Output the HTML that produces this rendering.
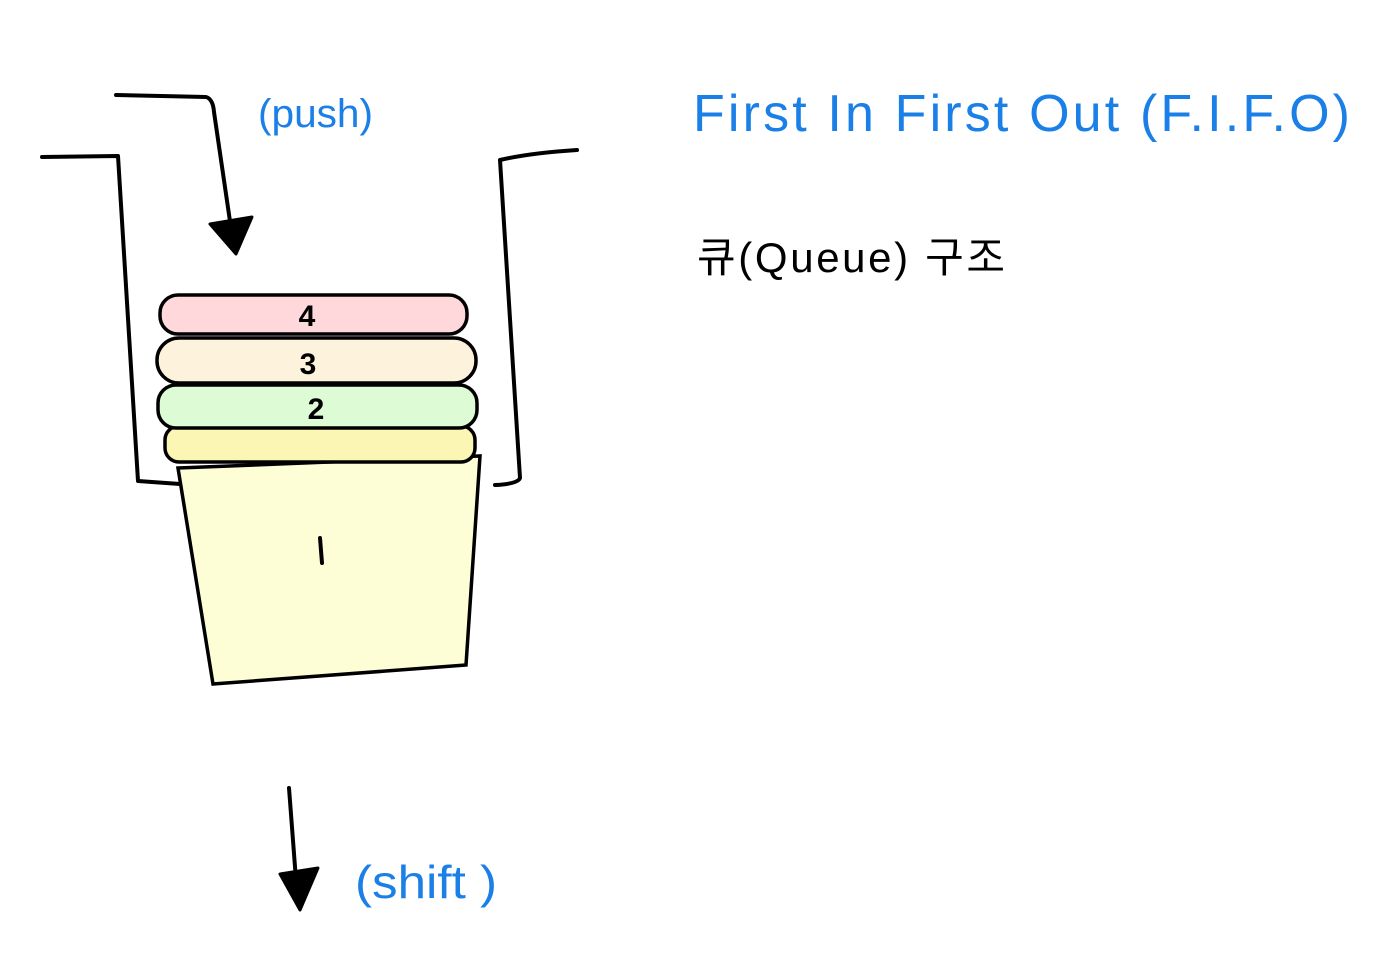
<!DOCTYPE html>
<html><head><meta charset="utf-8"><style>
html,body{margin:0;padding:0;background:#fff;}
svg{display:block}
</style></head><body>
<svg width="1398" height="956" viewBox="0 0 1398 956" xmlns="http://www.w3.org/2000/svg">
<rect width="1398" height="956" fill="#fff"/>
<g fill="none" stroke="#000" stroke-width="4" stroke-linecap="round" stroke-linejoin="round">
  <path d="M116,95 L206,97 Q213,99 214,112 L232,235"/>
  <path d="M210,224 L252,217 L236,254 Z" fill="#000" stroke-width="3"/>
  <path d="M42,157 L118,156 L138,481 L180,484"/>
  <path d="M577,150 Q530,153 500,160 L520,478 Q518,484 495,485"/>
</g>
<g stroke="#000" stroke-width="3.5">
  <path d="M178,468 L480,456 L466,665 L213,684 Z" fill="#fefed6"/>
  <rect x="165" y="426" width="310" height="36" rx="14" fill="#fbf6b4"/>
  <rect x="158" y="385" width="319" height="43" rx="18" fill="#ddfbd4"/>
  <rect x="157" y="338" width="319" height="45" rx="22" fill="#fdf3dd"/>
  <rect x="160" y="295" width="307" height="39" rx="18" fill="#ffd8db"/>
</g>
<g font-family="Liberation Sans, sans-serif" font-size="30" font-weight="bold" fill="#000" text-anchor="middle">
  <text x="307" y="326">4</text>
  <text x="308" y="374">3</text>
  <text x="316" y="419">2</text>
</g>
<path d="M320,538 L322,563" stroke="#000" stroke-width="4" stroke-linecap="round"/>
<g fill="none" stroke="#000" stroke-width="4" stroke-linecap="round" stroke-linejoin="round">
  <path d="M289,788 L297,893"/>
  <path d="M280,874 L318,868 L300,910 Z" fill="#000" stroke-width="3"/>
</g>
<g font-family="Liberation Sans, sans-serif" fill="#1a7fe6">
  <text x="258" y="127" font-size="40" textLength="115" lengthAdjust="spacingAndGlyphs">(push)</text>
  <text x="693" y="131" font-size="52" textLength="657" lengthAdjust="spacing">First In  First  Out  (F.I.F.O)</text>
  <text x="355" y="898" font-size="46" textLength="142" lengthAdjust="spacingAndGlyphs">(shift )</text>
</g>
<text x="697" y="272" font-family="Liberation Sans, 'Noto Sans CJK KR', sans-serif" font-size="42" fill="#000" textLength="308" lengthAdjust="spacing">큐(Queue) 구조</text>
</svg>
</body></html>
